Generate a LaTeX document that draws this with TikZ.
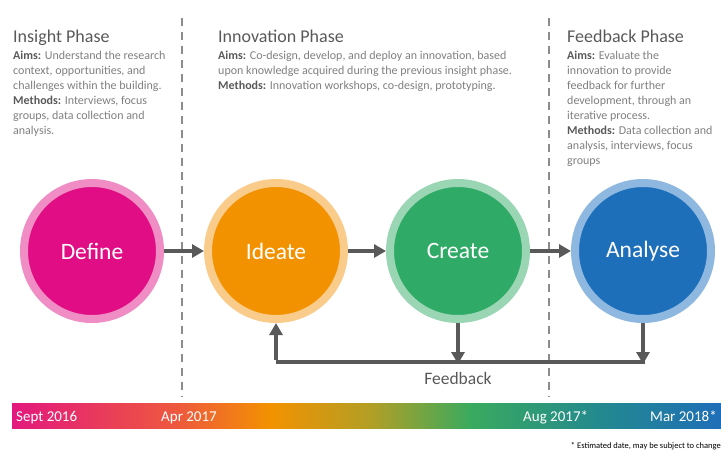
\documentclass[tikz,border=0pt]{standalone}
\usepackage{fontspec}
\setmainfont{Carlito}
\usetikzlibrary{arrows.meta}

\definecolor{titlegray}{HTML}{595959}
\definecolor{bodygray}{HTML}{7F7F7F}
\definecolor{arrowgray}{HTML}{595959}
\definecolor{dashgray}{HTML}{8C8C8C}
\definecolor{defineIn}{HTML}{E00D84}
\definecolor{defineRing}{HTML}{EF8DC4}
\definecolor{ideateIn}{HTML}{F39200}
\definecolor{ideateRing}{HTML}{F9CC8C}
\definecolor{createIn}{HTML}{30AA67}
\definecolor{createRing}{HTML}{9AD5B4}
\definecolor{analyseIn}{HTML}{1E6FBA}
\definecolor{analyseRing}{HTML}{8FB8E0}
% timeline colours, left to right
\definecolor{tlMagenta}{HTML}{E3187E}
\definecolor{tlRed}{HTML}{EE5A3C}
\definecolor{tlOrange}{HTML}{F39200}
\definecolor{tlOlive}{HTML}{B29F25}
\definecolor{tlGreen}{HTML}{3AAA5E}
\definecolor{tlTeal}{HTML}{23898F}
\definecolor{tlBlue}{HTML}{1F6EB8}

\newcommand{\phaseaims}{\textbf{\color{titlegray}Aims:}}
\newcommand{\phasemethods}{\textbf{\color{titlegray}Methods:}}

\tikzset{
  stage/.style={circle,minimum size=136pt,inner sep=0pt,outer sep=4pt,line width=8pt,
    text=white,font=\fontsize{23.5}{28}\selectfont},
  flow/.style={draw=arrowgray,line width=4pt,-{Triangle[length=12pt,width=13pt]}},
  flowline/.style={draw=arrowgray,line width=4pt},
  phaseline/.style={draw=dashgray,line width=2.5pt,dash pattern=on 8pt off 6pt},
  phasetitle/.style={anchor=base west,inner sep=0pt,text=titlegray,font=\fontsize{18}{21}\selectfont},
  phasetext/.style={anchor=north west,inner sep=0pt,align=left,text=bodygray,font=\fontsize{12}{15}\selectfont},
  datelabel/.style={anchor=base west,inner sep=0pt,text=white,font=\fontsize{15}{18}\selectfont}
}

\begin{document}
\begin{tikzpicture}[x=1pt,y=-1pt,line join=round]
	\useasboundingbox (0,0) rectangle (721,451);
	% phase separators
	\draw[phaseline] (182,18) -- (182,397);
	\draw[phaseline] (549,18) -- (549,397);
	% phase descriptions
	\node[phasetitle] (insight) at (13,42.5) {Insight Phase};
	\node[phasetext] (insightText) at (13,50.5) {\phaseaims{} Understand the research\\context, opportunities, and\\challenges within the building.\\\phasemethods{} Interviews, focus\\groups, data collection and\\analysis.};
	\node[phasetitle] (innovation) at (218,42.5) {Innovation Phase};
	\node[phasetext] (innovationText) at (218,50.5) {\phaseaims{} Co-design, develop, and deploy an innovation, based\\upon knowledge acquired during the previous insight phase.\\\phasemethods{} Innovation workshops, co-design, prototyping.};
	\node[phasetitle] (feedback) at (567,42.5) {Feedback Phase};
	\node[phasetext] (feedbackText) at (567,50.5) {\phaseaims{} Evaluate the\\innovation to provide\\feedback for further\\development, through an\\iterative process.\\\phasemethods{} Data collection and\\analysis, interviews, focus\\groups};
	% stages
	\node[stage,fill=defineIn,draw=defineRing] (define) at (92,251) {Define};
	\node[stage,fill=ideateIn,draw=ideateRing] (ideate) at (276,251) {Ideate};
	\node[stage,fill=createIn,draw=createRing] (create) at (458,251) {Create};
	\node[stage,fill=analyseIn,draw=analyseRing] (analyse) at (643,251) {Analyse};
	\draw[flow] (define) -- (ideate);
	\draw[flow] (ideate) -- (create);
	\draw[flow] (create) -- (analyse);
	% feedback loop
	\coordinate (fb) at (0,362);
	\draw[flow] (create.south) -- ([yshift=-2pt]create.south |- fb);
	\draw[flow] (analyse.south) -- ([yshift=-2pt]analyse.south |- fb);
	\draw[flowline] ([xshift=2pt]analyse.south |- fb) -- (ideate.south |- fb);
	\draw[flow] ([yshift=2pt]ideate.south |- fb) -- (ideate.south);
	\node[text=titlegray,font=\fontsize{17.5}{20}\selectfont] (fbLabel) at (458,378) {Feedback};
	% timeline bar
	\foreach \xa/\xb/\ca/\cb in {12/180/tlMagenta/tlRed,180/270/tlRed/tlOrange,270/370/tlOrange/tlOlive,
	  370/470/tlOlive/tlGreen,470/600/tlGreen/tlTeal,600/721/tlTeal/tlBlue}
		\shade[left color=\ca,right color=\cb] (\xa,403) rectangle ({\xb+0.6},428);
	\node[datelabel] (sept) at (16,421.5) {Sept 2016};
	\node[datelabel] (apr) at (161,421.5) {Apr 2017};
	\node[datelabel] (aug) at (523,421.5) {Aug 2017*};
	\node[datelabel] (mar) at (650,421.5) {Mar 2018*};
	\node[anchor=east,inner sep=0pt,font=\fontsize{8.5}{10}\selectfont] (note) at (721,446) {* Estimated date, may be subject to change};
\end{tikzpicture}
\end{document}
